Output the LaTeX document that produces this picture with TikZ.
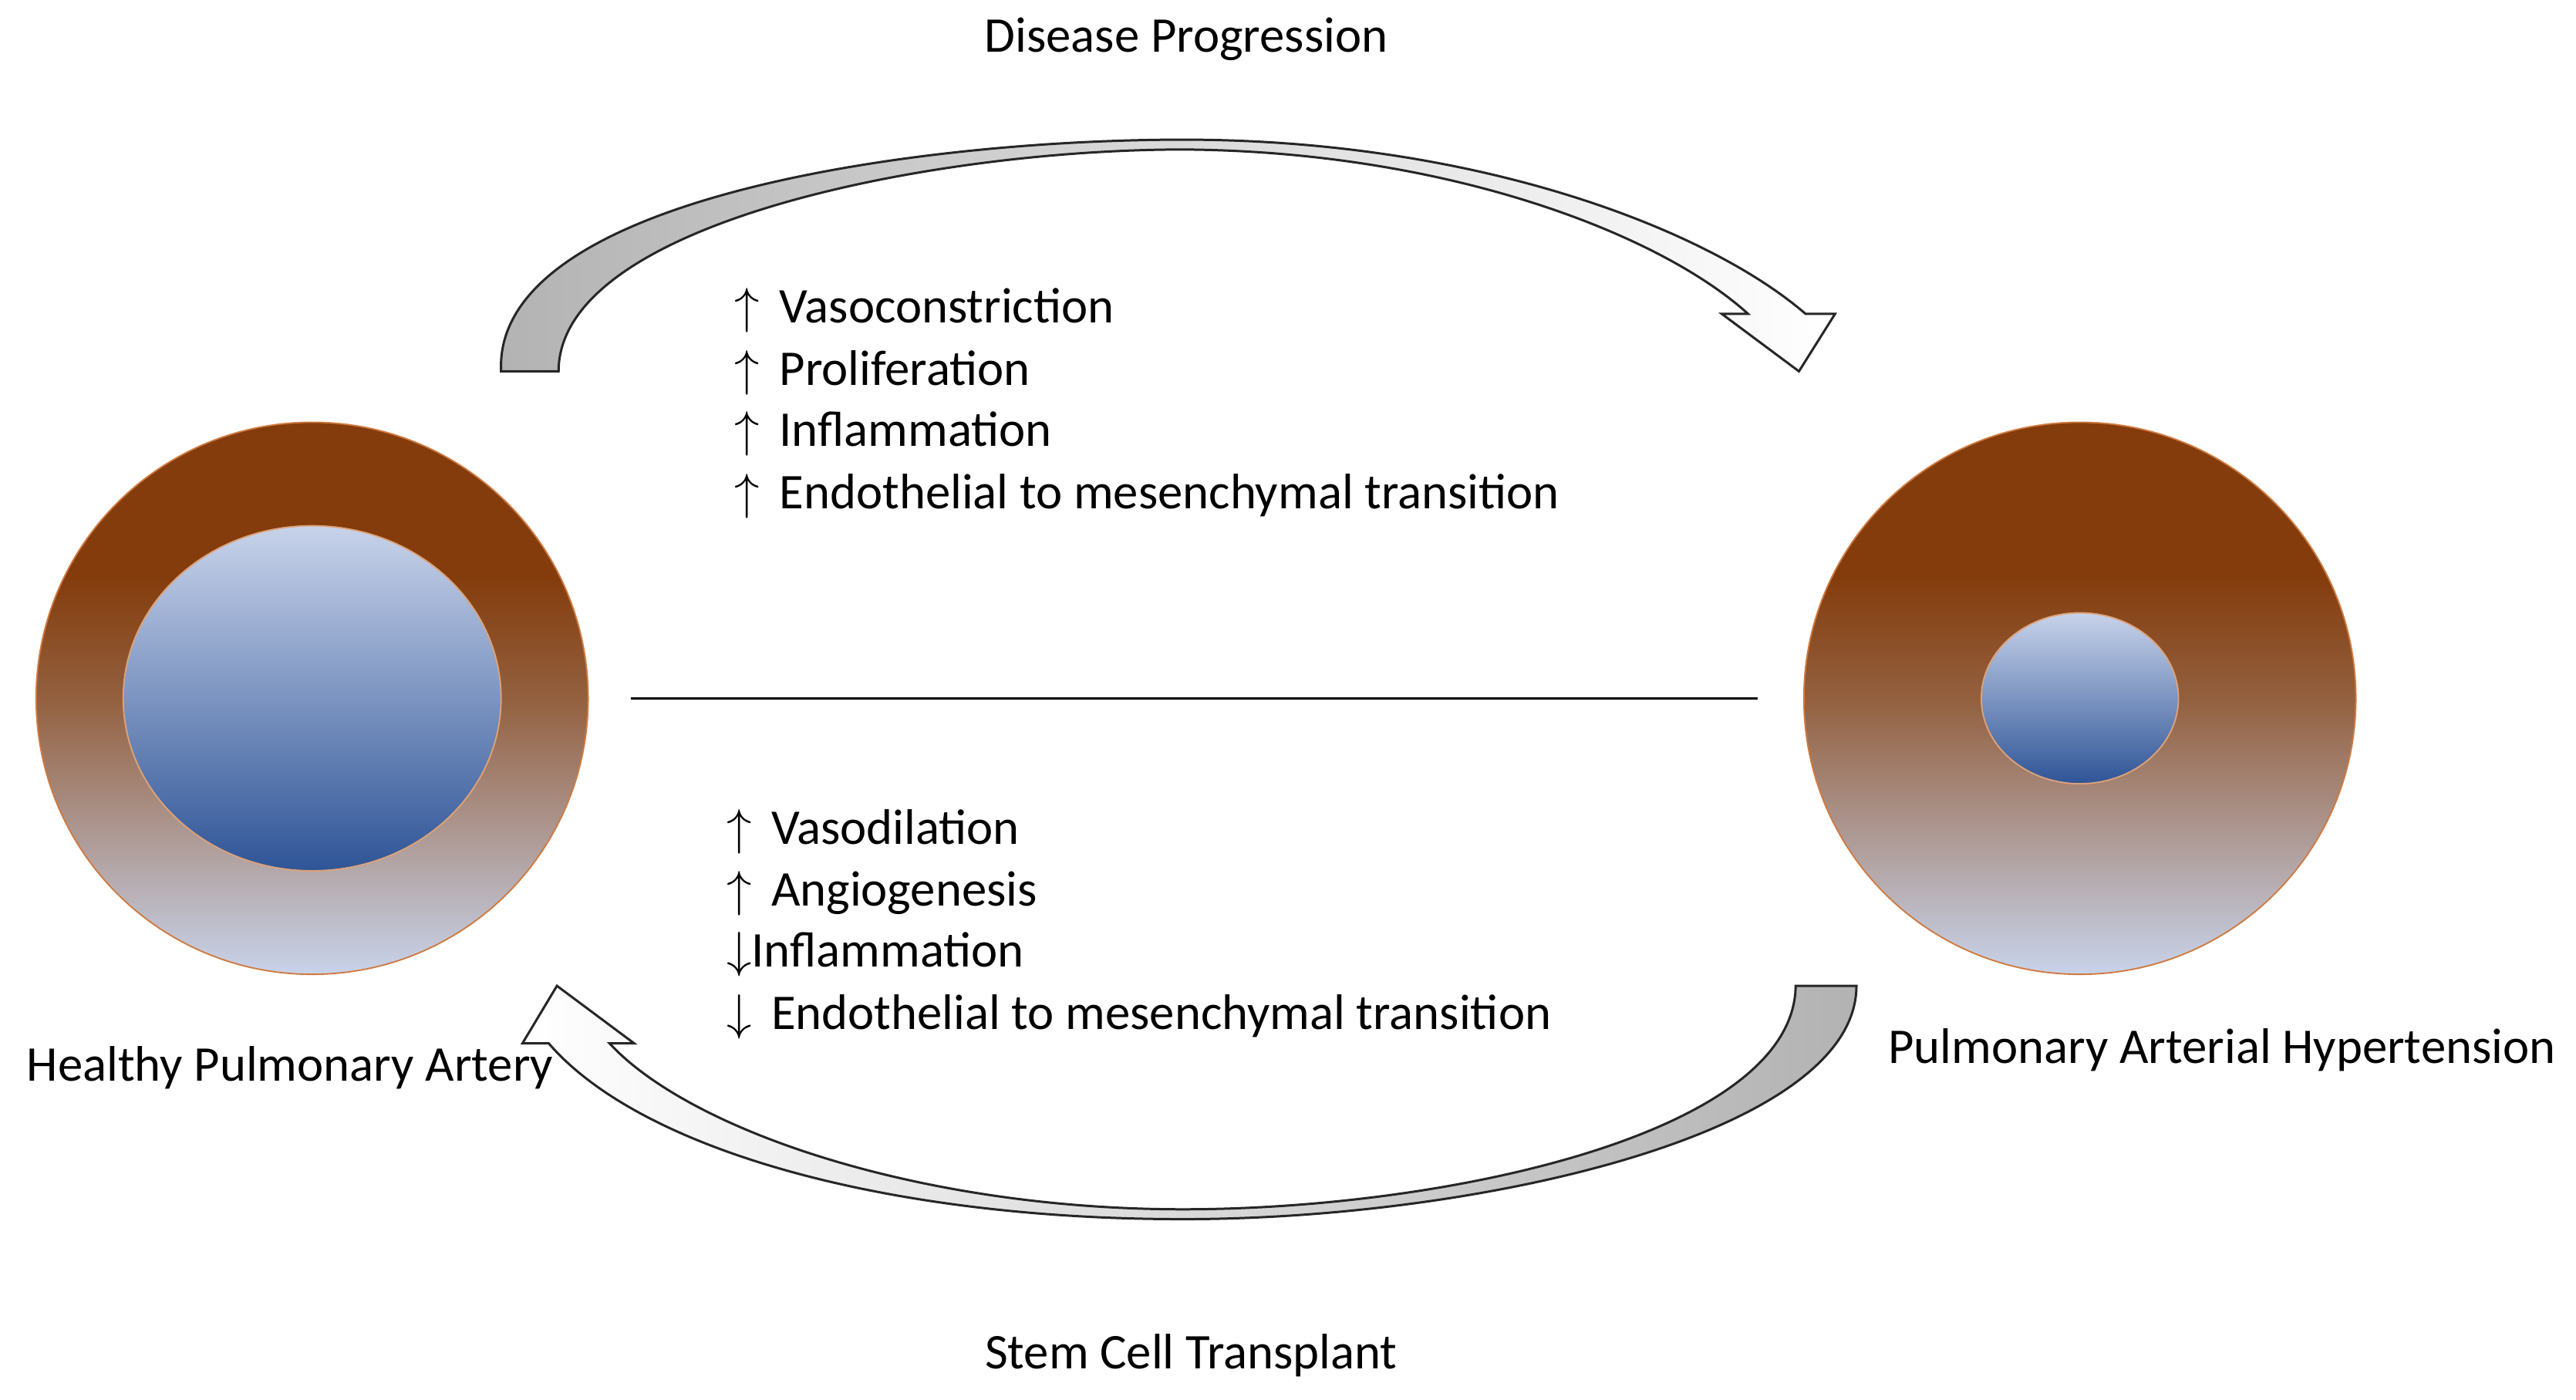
\documentclass[tikz,border=0pt]{standalone}
\usepackage{fontspec}
\setmainfont{Carlito}
\begin{document}
\definecolor{brn}{HTML}{843C0C}
\definecolor{brnmid}{HTML}{93603F}
\definecolor{lblue}{HTML}{C8D3EA}
\definecolor{dblue}{HTML}{2F5597}
\definecolor{edge}{HTML}{D07A40}
\pgfdeclareverticalshading{brnsh}{100bp}{color(0bp)=(lblue); color(25bp)=(lblue); color(50bp)=(brnmid); color(61bp)=(brn); color(100bp)=(brn)}
\begin{tikzpicture}[x=0.02cm,y=-0.02cm,
  outer/.style={draw=edge,line width=0.5pt,shading=brnsh},
  inner/.style={draw=edge!70,line width=0.5pt,top color=lblue,bottom color=dblue},
  lbl/.style={font=\fontsize{17.3}{20}\selectfont,inner sep=0pt},
  item/.style={lbl,anchor=west},
  arr/.style={draw=black!85,line width=0.8pt,line join=miter}]
\useasboundingbox (0,0) rectangle (1568,852);
% circles
\path[outer] (190,425) circle[radius=168];
\path[inner] (190,425) ellipse[x radius=115,y radius=105];
\path[outer] (1266,425) circle[radius=168];
\path[inner] (1266,425) ellipse[x radius=60,y radius=52];
% divider
\coordinate (d1) at (384,425);
\coordinate (d2) at (1070,425);
\draw[line width=0.8pt] (d1) -- (d2);
% top arrow
\path[arr,left color=black!30,right color=white]
 (305,226) .. controls (300,120) and (560,85) .. (720,85)
 .. controls (900,85) and (1040,140) .. (1099,191)
 -- (1117,191) -- (1095,226) -- (1048,191) -- (1064,191)
 .. controls (1010,142) and (880,92) .. (720,91)
 .. controls (570,91) and (340,135) .. (340,226) -- cycle;
% bottom arrow
\path[arr,left color=white,right color=black!30]
 (1130,600) .. controls (1130,690) and (900,742) .. (720,742)
 .. controls (540,742) and (390,700) .. (334,635)
 -- (318,635) -- (339,600) -- (386,635) -- (371,635)
 .. controls (420,688) and (560,736) .. (720,736)
 .. controls (880,736) and (1092,690) .. (1093,600) -- cycle;
% texts
\node[lbl] (t1) at (722,24) {Disease Progression};
\node[lbl] (t2) at (725,825) {Stem Cell Transplant};
\node[lbl,anchor=west] (t3) at (16,650) {Healthy Pulmonary Artery};
\node[lbl,anchor=west] (t4) at (1149,639) {Pulmonary Arterial Hypertension};
\node[item] (a1) at (447,189) {$\uparrow$\, Vasoconstriction};
\node[item] (a2) at (447,227) {$\uparrow$\, Proliferation};
\node[item] (a3) at (447,264) {$\uparrow$\, Inflammation};
\node[item] (a4) at (447,302) {$\uparrow$\, Endothelial to mesenchymal transition};
\node[item] (b1) at (442,506) {$\uparrow$\, Vasodilation};
\node[item] (b2) at (442,544) {$\uparrow$\, Angiogenesis};
\node[item] (b3) at (442,581) {$\downarrow$Inflammation};
\node[item] (b4) at (442,619) {$\downarrow$\, Endothelial to mesenchymal transition};
\end{tikzpicture}
\end{document}
